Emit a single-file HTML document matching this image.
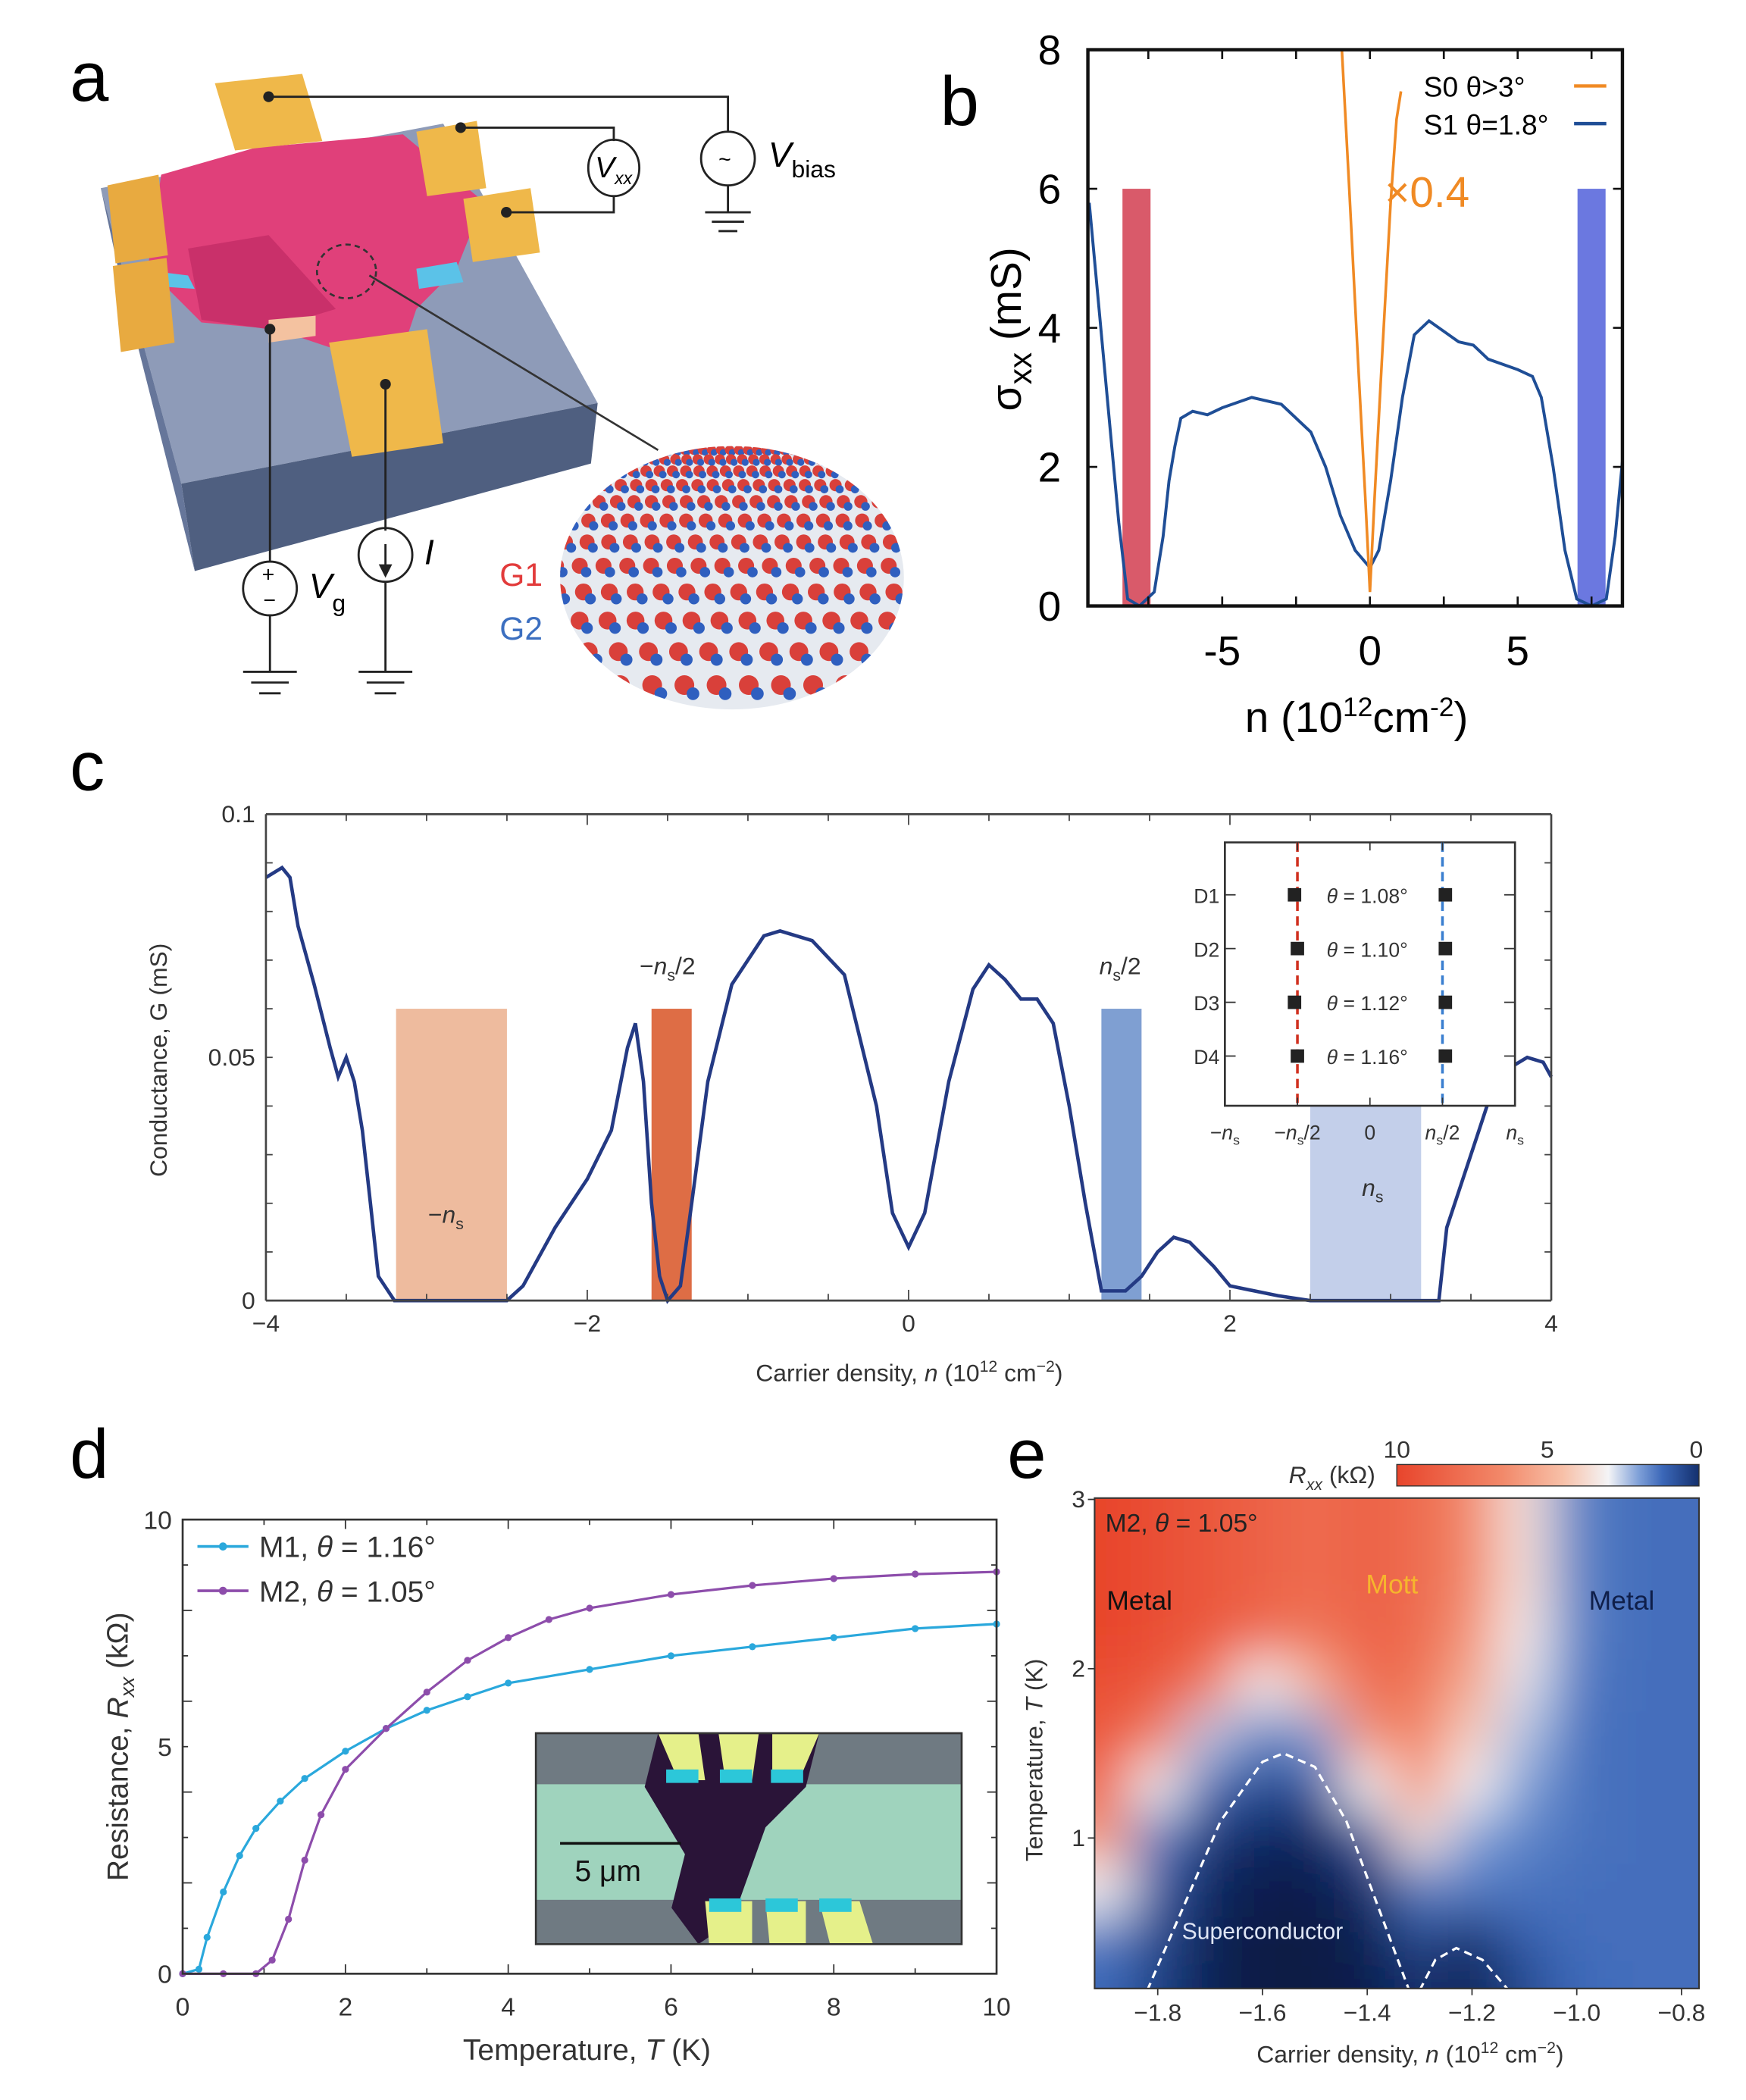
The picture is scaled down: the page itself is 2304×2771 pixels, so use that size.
<!DOCTYPE html>
<html><head><meta charset="utf-8"><style>
html,body{margin:0;padding:0;background:#fff;}
svg{display:block;font-family:"Liberation Sans",sans-serif;}
</style></head><body>
<svg id="fig" xmlns="http://www.w3.org/2000/svg" width="2304" height="2771" viewBox="0 0 1300 1563" preserveAspectRatio="none">
<defs>
<filter id="blur" x="-5%" y="-5%" width="110%" height="110%"><feGaussianBlur stdDeviation="20"/></filter>
<clipPath id="eclip"><rect x="815" y="1115" width="450" height="365"/></clipPath>
<clipPath id="latclip"><ellipse cx="545" cy="430" rx="128" ry="98"/></clipPath>
<linearGradient id="cbar" x1="0" x2="1" y1="0" y2="0">
<stop offset="0" stop-color="#e8452c"/><stop offset="0.35" stop-color="#f2896a"/><stop offset="0.55" stop-color="#f7c0a8"/><stop offset="0.7" stop-color="#f4f4f6"/><stop offset="0.8" stop-color="#7fa0d8"/><stop offset="0.88" stop-color="#3b67b8"/><stop offset="1" stop-color="#14306e"/></linearGradient>
</defs>

<text x="52" y="75" font-size="52">a</text>
<text x="700" y="93" font-size="52">b</text>
<text x="52" y="588" font-size="52">c</text>
<text x="52" y="1100" font-size="52">d</text>
<text x="750" y="1100" font-size="52">e</text>

<g>
<polygon points="75,140 330,92 445,300 135,360" fill="#8e9bb8"/>
<polygon points="135,360 445,300 440,345 145,425" fill="#4f5f80"/>
<polygon points="75,140 135,360 145,425 88,200" fill="#66769a"/>
<polygon points="120,130 190,110 300,100 360,150 340,200 310,230 300,260 250,260 205,245 150,240 110,200" fill="#e0407a"/>
<polygon points="140,185 200,175 250,230 200,245 150,238" fill="#c9306a"/>
<polygon points="100,200 140,205 145,215 102,212" fill="#5bc2e8"/>
<polygon points="310,200 340,195 345,210 312,215" fill="#5bc2e8"/>
<polygon points="200,238 235,235 235,250 200,255" fill="#f4c2a0"/>
<polygon points="160,62 225,55 240,105 175,112" fill="#efb84a"/>
<polygon points="310,98 355,90 362,140 318,146" fill="#efb84a"/>
<polygon points="345,148 395,140 402,188 352,195" fill="#efb84a"/>
<polygon points="80,138 118,130 125,190 86,196" fill="#e8aa40"/>
<polygon points="84,198 124,192 130,255 90,262" fill="#e8aa40"/>
<polygon points="245,255 318,245 330,330 262,340" fill="#efb84a"/>
<ellipse cx="258" cy="202" rx="22" ry="20" fill="none" stroke="#333" stroke-dasharray="4,3" stroke-width="1.5"/>
<line x1="275" y1="205" x2="490" y2="335" stroke="#333" stroke-width="1.5"/>
<g fill="none" stroke="#222" stroke-width="1.6">
<polyline points="200,72 542,72 542,98"/>
<circle cx="542" cy="118" r="20"/>
<polyline points="542,138 542,158"/>
<line x1="525" y1="158" x2="559" y2="158"/><line x1="530" y1="165" x2="554" y2="165"/><line x1="535" y1="172" x2="549" y2="172"/>
<polyline points="343,95 457,95 457,105"/>
<ellipse cx="457" cy="125" rx="19" ry="21"/>
<polyline points="457,146 457,158 377,158"/>
<polyline points="201,245 201,418"/>
<circle cx="201" cy="438" r="20"/>
<polyline points="201,458 201,500"/>
<line x1="181" y1="500" x2="221" y2="500"/><line x1="187" y1="508" x2="215" y2="508"/><line x1="193" y1="516" x2="209" y2="516"/>
<polyline points="287,286 287,395"/>
<circle cx="287" cy="413" r="20"/>
<polyline points="287,433 287,500"/>
<line x1="267" y1="500" x2="307" y2="500"/><line x1="273" y1="508" x2="301" y2="508"/><line x1="279" y1="516" x2="295" y2="516"/>
<line x1="287" y1="405" x2="287" y2="425"/>
</g>
<polygon points="282,420 292,420 287,430" fill="#222"/>
<g fill="#222"><circle cx="200" cy="72" r="4"/><circle cx="343" cy="95" r="4"/><circle cx="377" cy="158" r="4"/><circle cx="201" cy="245" r="4"/><circle cx="287" cy="286" r="4"/></g>
<text x="535" y="124" font-size="16">~</text>
<text x="443" y="132" font-size="22" font-style="italic">V<tspan font-size="13" dy="5">xx</tspan></text>
<text x="572" y="124" font-size="26" font-style="italic">V<tspan font-size="18" dy="8" font-style="normal">bias</tspan></text>
<text x="195" y="433" font-size="16">+</text><text x="196" y="452" font-size="16">−</text>
<text x="230" y="445" font-size="26" font-style="italic">V<tspan font-size="18" dy="10" font-style="normal">g</tspan></text>
<text x="316" y="420" font-size="26" font-style="italic">I</text>
<g clip-path="url(#latclip)" id="lattice">
<rect x="415" y="330" width="260" height="200" fill="#e6eaf0"/>
</g>
<text x="372" y="436" font-size="24" fill="#e23b3b">G1</text>
<text x="372" y="476" font-size="24" fill="#3c6fc0">G2</text>
</g>

<g id="pb"></g>
<g id="pc"></g>
<g id="pd"></g>
<g id="pe"></g>
</svg>
<script>
// Panel b
const bS1N=[-9.5,-9,-8.5,-8.2,-7.8,-7.3,-7,-6.8,-6.6,-6.4,-6,-5.5,-5,-4,-3,-2,-1.5,-1,-0.5,0,0.3,0.7,1.1,1.5,2,2.5,3,3.5,4,5,5.5,5.8,6.2,6.6,7,7.5,8,8.3,8.55];
const bS1Sigma=[5.8,3.5,1.2,0.1,0,0.2,1,1.8,2.3,2.7,2.8,2.75,2.85,3,2.9,2.5,2,1.3,0.8,0.55,0.8,1.8,3,3.9,4.1,3.95,3.8,3.75,3.55,3.4,3.3,3,2,0.8,0.1,0,0.1,1,2.1];
const bS0N=[-0.95,-0.7,-0.4,-0.15,0,0.15,0.4,0.7,0.9,1.05];
const bS0Sigma=[8,6,3.5,1.5,0.2,1.5,3.5,5.8,7,7.4];
const bBarN=[-7.9,7.5]; const bBarTop=[6,6]; const bBarW=[0.95,0.95];
const bBarColors=["#d95a6a","#6b78e0"];
const bYTicks=[0,2,4,6,8]; const bXTicks=[-5,0,5];
// Panel c
const cN=[-4,-3.9,-3.85,-3.8,-3.7,-3.6,-3.55,-3.5,-3.45,-3.4,-3.35,-3.3,-3.2,-2.5,-2.4,-2.2,-2,-1.85,-1.75,-1.7,-1.65,-1.6,-1.55,-1.5,-1.42,-1.35,-1.25,-1.1,-0.9,-0.8,-0.6,-0.4,-0.2,-0.1,0,0.1,0.25,0.4,0.5,0.6,0.7,0.8,0.9,1,1.1,1.2,1.35,1.45,1.55,1.65,1.75,1.9,2,2.3,2.5,3.3,3.35,3.45,3.55,3.65,3.75,3.85,3.95,4];
const cG=[0.087,0.089,0.087,0.077,0.065,0.052,0.046,0.05,0.045,0.035,0.02,0.005,0,0,0.003,0.015,0.025,0.035,0.052,0.057,0.045,0.02,0.005,0,0.003,0.02,0.045,0.065,0.075,0.076,0.074,0.067,0.04,0.018,0.011,0.018,0.045,0.064,0.069,0.066,0.062,0.062,0.057,0.04,0.02,0.002,0.002,0.005,0.01,0.013,0.012,0.007,0.003,0.001,0,0,0.015,0.025,0.035,0.045,0.048,0.05,0.049,0.046];
const cBarStart=[-3.19,-1.6,1.2,2.5]; const cBarEnd=[-2.5,-1.35,1.45,3.19]; const cBarTop=[0.06,0.06,0.06,0.06];
const cBarColors=["#eebb9e","#de6d45","#7f9fd2","#c3cfea"];
const cXTicks=[-4,-2,0,2,4]; const cYTicks=[0,0.05,0.1]; const cYTickLabels=["0","0.05","0.1"];
const insetDevices=["D1","D2","D3","D4"]; const insetAngles=["1.08","1.10","1.12","1.16"];
const insetLeft=[-0.52,-0.5,-0.52,-0.5]; const insetRight=[0.52,0.52,0.52,0.52];
const insetTickLabels=["−n","−n/2","0","n/2","n"]; const insetTickVals=[-1,-0.5,0,0.5,1];
// Panel d
const dM1T=[0,0.2,0.3,0.5,0.7,0.9,1.2,1.5,2,2.5,3,3.5,4,5,6,7,8,9,10];
const dM1R=[0,0.1,0.8,1.8,2.6,3.2,3.8,4.3,4.9,5.4,5.8,6.1,6.4,6.7,7,7.2,7.4,7.6,7.7];
const dM2T=[0,0.5,0.9,1.1,1.3,1.5,1.7,2,2.5,3,3.5,4,4.5,5,6,7,8,9,10];
const dM2R=[0,0,0,0.3,1.2,2.5,3.5,4.5,5.4,6.2,6.9,7.4,7.8,8.05,8.35,8.55,8.7,8.8,8.85];
const dXTicks=[0,2,4,6,8,10]; const dYTicks=[0,5,10];
// Panel e
const eN=[-1.9,-1.8,-1.7,-1.6,-1.5,-1.4,-1.3,-1.2,-1.1,-1.0,-0.9,-0.8];
const eT=[2.85,2.5,2.2,1.9,1.6,1.3,1.0,0.7,0.4,0.15];
const eR=[
[10,9.5,9,8.5,8,8.5,8,6.5,3.5,1.6,1.3,1.3],
[10,9.5,9,8.5,8,8.5,8,6.5,3.5,1.6,1.3,1.3],
[10,9.5,9,8,7.5,8.5,8,6,3.2,1.6,1.3,1.3],
[9.5,9,7,3,5,8,7.5,5.2,2.8,1.5,1.3,1.3],
[9,7,2.5,1.5,2,6,7,4,2.4,1.4,1.3,1.3],
[8,3,1.2,0.8,1,3,6,3,2,1.4,1.3,1.3],
[6,1.5,0.6,0.3,0.3,1,3.5,2,1.6,1.4,1.3,1.3],
[3,1,0.3,0.1,0.1,0.4,1.5,1.5,1.4,1.3,1.3,1.3],
[1.5,0.8,0.2,0,0,0.2,0.8,0.5,1.1,1.3,1.3,1.3],
[1.2,0.7,0.2,0,0,0.1,0.5,0.2,0.8,1.2,1.3,1.3]];
const eDomeN=[-1.82,-1.75,-1.68,-1.6,-1.56,-1.5,-1.44,-1.38,-1.32];
const eDomeT=[0.1,0.6,1.1,1.45,1.5,1.42,1.1,0.6,0.1];
const eDome2N=[-1.3,-1.27,-1.23,-1.18,-1.13];
const eDome2T=[0.1,0.28,0.35,0.28,0.1];
const eXTicks=[-1.8,-1.6,-1.4,-1.2,-1.0,-0.8]; const eXTickLabels=["−1.8","−1.6","−1.4","−1.2","−1.0","−0.8"];
const eYTicks=[1,2,3];

const NS="http://www.w3.org/2000/svg";
function mk(tag,attrs,parent){const e=document.createElementNS(NS,tag);for(const k in attrs)e.setAttribute(k,attrs[k]);parent.appendChild(e);return e;}
function txt(s,attrs,parent){const e=mk("text",attrs,parent);e.textContent=s;return e;}
function lin(d0,d1,r0,r1){return v=>r0+(v-d0)/(d1-d0)*(r1-r0);}
function pathOf(xs,ys,fx,fy){return xs.map((x,i)=>(i?"L":"M")+fx(x).toFixed(1)+","+fy(ys[i]).toFixed(1)).join("");}

(function(){const g=document.getElementById("lattice");
for(let r=0;r<14;r++){for(let c=0;c<20;c++){const y=335+r*r*0.9+r*6;const s=0.3+r*0.07;const x=420+c*14*s*1.6+(r%2)*7*s-((14*s*1.6*20)-260)/2;
const d=mk("circle",{cx:x,cy:y,r:2+s*5,fill:"#d9403a"},g);
const d2=mk("circle",{cx:x+6*s,cy:y+6*s,r:1.5+s*3,fill:"#2f5fbf"},g);}}})();

(function(){const g=document.getElementById("pb");
const X0=810,X1=1208,Y0=37,Y1=451;const fx=lin(0,5,1020,1130),fy=lin(0,8,451,37);
bBarN.forEach((n,i)=>{const r=mk("rect",{x:fx(n-bBarW[i]/2),y:fy(bBarTop[i]),width:fx(bBarW[i])-fx(0),height:fy(0)-fy(bBarTop[i]),fill:bBarColors[i]},g);
});
const cl=mk("clipPath",{id:"bclip"},g);mk("rect",{x:X0,y:Y0,width:X1-X0,height:Y1-Y0},cl);
const p1=mk("path",{d:pathOf(bS1N,bS1Sigma,fx,fy),fill:"none",stroke:"#1f4e96","stroke-width":2.2,"clip-path":"url(#bclip)"},g);

const p0=mk("path",{d:pathOf(bS0N,bS0Sigma,fx,fy),fill:"none",stroke:"#f08a24","stroke-width":2,"clip-path":"url(#bclip)"},g);

const fr=mk("rect",{x:X0,y:Y0,width:X1-X0,height:Y1-Y0,fill:"none",stroke:"#111","stroke-width":2.5},g);

bYTicks.forEach(v=>{mk("line",{x1:X0,x2:X0+7,y1:fy(v),y2:fy(v),stroke:"#111","stroke-width":1.5},g);mk("line",{x1:X1,x2:X1-7,y1:fy(v),y2:fy(v),stroke:"#111","stroke-width":1.5},g);
const t=txt(String(v),{x:790,y:fy(v)+11,"font-size":31,"text-anchor":"end"},g);});
[-7.5,-5,-2.5,0,2.5,5,7.5].forEach(v=>{mk("line",{x1:fx(v),x2:fx(v),y1:Y1,y2:Y1-7,stroke:"#111","stroke-width":1.5},g);mk("line",{x1:fx(v),x2:fx(v),y1:Y0,y2:Y0+7,stroke:"#111","stroke-width":1.5},g);});
bXTicks.forEach(v=>{const t=txt(v<0?"-"+Math.abs(v):String(v),{x:fx(v),y:495,"font-size":31,"text-anchor":"middle"},g);});
const yl=txt("",{transform:"translate(760,245) rotate(-90)","font-size":32,"text-anchor":"middle"},g);yl.innerHTML='σ<tspan font-size="24" dy="8">xx</tspan><tspan dy="-8"> (mS)</tspan>';

const xl=txt("",{x:1010,y:545,"font-size":32,"text-anchor":"middle"},g);xl.innerHTML='n (10<tspan font-size="20" dy="-12">12</tspan><tspan dy="12">cm</tspan><tspan font-size="20" dy="-12">-2</tspan><tspan dy="12">)</tspan>';

const l1=txt("S0 θ>3°",{x:1060,y:72,"font-size":21},g);
mk("line",{x1:1172,x2:1196,y1:64,y2:64,stroke:"#f08a24","stroke-width":2.5},g);
const l2=txt("S1 θ=1.8°",{x:1060,y:100,"font-size":21},g);
mk("line",{x1:1172,x2:1196,y1:92,y2:92,stroke:"#1f4e96","stroke-width":2.5},g);
const sc=txt("×0.4",{x:1031,y:154,"font-size":32,fill:"#f08a24"},g);
})();

(function(){const g=document.getElementById("pc");
const X0=198,X1=1155,Y0=606,Y1=968;const fx=lin(-4,4,198,1155),fy=lin(0,0.1,968,606);
cBarStart.forEach((s,i)=>{const r=mk("rect",{x:fx(s),y:fy(cBarTop[i]),width:fx(cBarEnd[i])-fx(s),height:fy(0)-fy(cBarTop[i]),fill:cBarColors[i]},g);
});
const p=mk("path",{d:pathOf(cN,cG,fx,fy),fill:"none",stroke:"#243a84","stroke-width":2.6},g);

mk("line",{x1:X0,x2:X1,y1:Y1,y2:Y1,stroke:"#444","stroke-width":1.5},g);
mk("line",{x1:X0,x2:X1,y1:Y0,y2:Y0,stroke:"#444","stroke-width":1.5},g);
mk("line",{x1:X0,x2:X0,y1:Y0,y2:Y1,stroke:"#444","stroke-width":1.5},g);
mk("line",{x1:X1,x2:X1,y1:Y0,y2:Y1,stroke:"#444","stroke-width":1.5},g);
for(let v=-4;v<=4;v+=0.5){const len=(v%2===0)?8:5;mk("line",{x1:fx(v),x2:fx(v),y1:Y1,y2:Y1-len,stroke:"#444"},g);mk("line",{x1:fx(v),x2:fx(v),y1:Y0,y2:Y0+len,stroke:"#444"},g);}
for(let v=0;v<=0.1001;v+=0.01){mk("line",{x1:X0,x2:X0+5,y1:fy(v),y2:fy(v),stroke:"#444"},g);mk("line",{x1:X1,x2:X1-5,y1:fy(v),y2:fy(v),stroke:"#444"},g);}
cXTicks.forEach(v=>{const t=txt(v<0?"−"+Math.abs(v):String(v),{x:fx(v),y:991,"font-size":18,"text-anchor":"middle",fill:"#333"},g);});
cYTicks.forEach((v,i)=>{const t=txt(cYTickLabels[i],{x:190,y:fy(v)+6,"font-size":18,"text-anchor":"end",fill:"#333"},g);});
const yl=txt("Conductance, G (mS)",{transform:"translate(124,789) rotate(-90)","font-size":18,"text-anchor":"middle",fill:"#333"},g);
const xl=txt("",{x:677,y:1028,"font-size":18,"text-anchor":"middle",fill:"#333"},g);xl.innerHTML='Carrier density, <tspan font-style="italic">n</tspan> (10<tspan font-size="12" dy="-7">12</tspan><tspan dy="7"> cm</tspan><tspan font-size="12" dy="-7">−2</tspan><tspan dy="7">)</tspan>';

function nsLabel(pre,suf,x,y,name){const t=txt("",{x:x,y:y,"font-size":18,"text-anchor":"middle",fill:"#333"},g);t.innerHTML=pre+'<tspan font-style="italic">n</tspan><tspan font-size="12" dy="5">s</tspan><tspan dy="-5">'+suf+'</tspan>';}
nsLabel("−","/2",497,725,"label-minus-half-ns");nsLabel("","/2",834,725,"label-half-ns");nsLabel("−","",332,910,"label-minus-ns");nsLabel("","",1022,890,"label-ns");
const IX0=912,IX1=1128,IY0=627,IY1=823;const ix=lin(-1,1,IX0,IX1);const rowY=[666,706,746,786];
const ib=mk("rect",{x:IX0,y:IY0,width:IX1-IX0,height:IY1-IY0,fill:"#fff",stroke:"#333","stroke-width":1.5},g);
const rd=mk("line",{x1:ix(-0.5),x2:ix(-0.5),y1:IY0,y2:IY1,stroke:"#d0301e","stroke-width":2,"stroke-dasharray":"7,4"},g);
const bd=mk("line",{x1:ix(0.5),x2:ix(0.5),y1:IY0,y2:IY1,stroke:"#3a7fd0","stroke-width":2,"stroke-dasharray":"7,4"},g);
insetTickVals.forEach((v,i)=>{mk("line",{x1:ix(v),x2:ix(v),y1:IY1,y2:IY1-6,stroke:"#333"},g);mk("line",{x1:ix(v),x2:ix(v),y1:IY0,y2:IY0+6,stroke:"#333"},g);
const t=txt("",{x:ix(v),y:848,"font-size":15,"text-anchor":"middle",fill:"#333"},g);const L=insetTickLabels[i];
if(L==="0")t.textContent="0";else{const pre=L[0]==="−"?"−":"";const suf=L.indexOf("/2")>=0?"/2":"";t.innerHTML=pre+'<tspan font-style="italic">n</tspan><tspan font-size="10" dy="4">s</tspan><tspan dy="-4">'+suf+'</tspan>';}
});
insetDevices.forEach((d,i)=>{const y=rowY[i];mk("line",{x1:IX0,x2:IX0+8,y1:y,y2:y,stroke:"#333"},g);mk("line",{x1:IX1,x2:IX1-8,y1:y,y2:y,stroke:"#333"},g);
const t=txt(d,{x:908,y:y+6,"font-size":15,"text-anchor":"end",fill:"#333"},g);
[insetLeft[i],insetRight[i]].forEach(v=>{const m=mk("rect",{x:ix(v)-5,y:y-5,width:10,height:10,fill:"#222"},g);});
const a=txt("",{x:1018,y:y+6,"font-size":15,"text-anchor":"middle",fill:"#333"},g);a.innerHTML='<tspan font-style="italic">θ</tspan> = '+insetAngles[i]+'°';});
})();

(function(){const g=document.getElementById("pd");
const X0=136,X1=742,Y0=1131,Y1=1469;const fx=lin(0,10,136,742),fy=lin(0,10,1469,1131);
const ig=mk("g",{},g);
mk("rect",{x:399,y:1290,width:317,height:157,fill:"#6f7a82"},ig);
mk("rect",{x:399,y:1328,width:317,height:86,fill:"#9fd3bd"},ig);
mk("polygon",{points:"490,1290 610,1290 600,1330 570,1360 545,1430 520,1447 500,1420 510,1380 480,1330",fill:"#2a1438"},ig);
mk("polygon",{points:"490,1290 520,1290 525,1325 505,1325",fill:"#e5f08a"},ig);
mk("polygon",{points:"535,1290 565,1290 560,1325 540,1325",fill:"#e5f08a"},ig);
mk("polygon",{points:"575,1290 610,1290 595,1325 575,1325",fill:"#e5f08a"},ig);
mk("polygon",{points:"525,1415 560,1415 560,1447 528,1447",fill:"#e5f08a"},ig);
mk("polygon",{points:"570,1415 600,1415 600,1447 573,1447",fill:"#e5f08a"},ig);
mk("polygon",{points:"610,1415 640,1415 650,1447 618,1447",fill:"#e5f08a"},ig);
[[508,1322],[548,1322],[586,1322],[540,1418],[582,1418],[622,1418]].forEach(p=>mk("rect",{x:p[0]-12,y:p[1]-5,width:24,height:10,fill:"#2cc7d9"},ig));
mk("rect",{x:399,y:1290,width:317,height:157,fill:"none",stroke:"#333","stroke-width":1.5},ig);
mk("line",{x1:417,x2:507,y1:1372,y2:1372,stroke:"#111","stroke-width":2},ig);
const sb=txt("5 μm",{x:428,y:1400,"font-size":22,fill:"#111"},ig);
function series(xs,ys,col,name){const p=mk("path",{d:pathOf(xs,ys,fx,fy),fill:"none",stroke:col,"stroke-width":1.8},g);
xs.forEach((x,i)=>{const c=mk("circle",{cx:fx(x),cy:fy(ys[i]),r:2.6,fill:col},g);});}
series(dM1T,dM1R,"#2aa8dc","m1");series(dM2T,dM2R,"#8d4dab","m2");
mk("rect",{x:X0,y:Y0,width:X1-X0,height:Y1-Y0,fill:"none",stroke:"#333","stroke-width":1.5},g);
for(let v=0;v<=10;v+=1){const len=(v%2===0)?7:4;mk("line",{x1:fx(v),x2:fx(v),y1:Y1,y2:Y1-len,stroke:"#333"},g);mk("line",{x1:fx(v),x2:fx(v),y1:Y0,y2:Y0+len,stroke:"#333"},g);
mk("line",{x1:X0,x2:X0+len,y1:fy(v),y2:fy(v),stroke:"#333"},g);mk("line",{x1:X1,x2:X1-len,y1:fy(v),y2:fy(v),stroke:"#333"},g);}
dXTicks.forEach(v=>{const t=txt(String(v),{x:fx(v),y:1500,"font-size":19,"text-anchor":"middle",fill:"#333"},g);});
dYTicks.forEach(v=>{const t=txt(String(v),{x:128,y:fy(v)+7,"font-size":19,"text-anchor":"end",fill:"#333"},g);});
const yl=txt("",{transform:"translate(95,1300) rotate(-90)","font-size":22,"text-anchor":"middle",fill:"#333"},g);yl.innerHTML='Resistance, <tspan font-style="italic">R</tspan><tspan font-size="15" dy="5" font-style="italic">xx</tspan><tspan dy="-5"> (kΩ)</tspan>';

const xl=txt("",{x:437,y:1533,"font-size":22,"text-anchor":"middle",fill:"#333"},g);xl.innerHTML='Temperature, <tspan font-style="italic">T</tspan> (K)';

[["M1","1.16","#2aa8dc",1151],["M2","1.05","#8d4dab",1184]].forEach(L=>{mk("line",{x1:147,x2:185,y1:L[3],y2:L[3],stroke:L[2],"stroke-width":2},g);mk("circle",{cx:166,cy:L[3],r:3,fill:L[2]},g);
const t=txt("",{x:193,y:L[3]+8,"font-size":22,fill:"#333"},g);t.innerHTML=L[0]+', <tspan font-style="italic">θ</tspan> = '+L[1]+'°';});
})();

(function(){const g=document.getElementById("pe");
const X0=815,X1=1265,Y0=1115,Y1=1480;const fx=lin(-1.8,-0.8,862,1252),fy=lin(1,2,1368,1242);
const stops=[[0,[11,26,69]],[0.5,[20,48,110]],[1.2,[59,103,184]],[2,[127,160,216]],[3,[244,244,246]],[4.5,[247,192,168]],[6.5,[242,137,106]],[10,[232,69,44]]];
function col(v){v=Math.max(0,Math.min(10,v));for(let i=1;i<stops.length;i++){if(v<=stops[i][0]){const a=stops[i-1],b=stops[i];const t=(v-a[0])/(b[0]-a[0]);const c=a[1].map((x,k)=>Math.round(x+(b[1][k]-x)*t));return "rgb("+c.join(",")+")";}}return "rgb(232,69,44)";}
const hg=mk("g",{"clip-path":"url(#eclip)"},g);mk("rect",{x:X0,y:Y0,width:X1-X0,height:Y1-Y0,fill:col(1.3)},hg);
const bg=mk("g",{filter:"url(#blur)"},hg);
const dn=0.1;const tEdges=eT.map((t,i)=>{const up=i===0?3.4:(t+eT[i-1])/2;const lo=i===eT.length-1?-0.4:(t+eT[i+1])/2;return [up,lo];});
eR.forEach((row,i)=>row.forEach((v,j)=>{const x0=fx(eN[j]-dn/2-(j===0?0.3:0)),x1=fx(eN[j]+dn/2+(j===eN.length-1?0.3:0));
const c=mk("rect",{x:x0,y:fy(tEdges[i][0]),width:x1-x0+0.5,height:fy(tEdges[i][1])-fy(tEdges[i][0])+0.5,fill:col(v)},bg);
}));
const d1=mk("path",{d:pathOf(eDomeN,eDomeT,fx,fy),fill:"none",stroke:"#fff","stroke-width":1.8,"stroke-dasharray":"6,4"},hg);
const d2=mk("path",{d:pathOf(eDome2N,eDome2T,fx,fy),fill:"none",stroke:"#fff","stroke-width":1.8,"stroke-dasharray":"6,4"},hg);
mk("rect",{x:X0,y:Y0,width:X1-X0,height:Y1-Y0,fill:"none",stroke:"#333","stroke-width":1.2},g);
eXTicks.forEach((v,i)=>{mk("line",{x1:fx(v),x2:fx(v),y1:Y1,y2:Y1+5,stroke:"#333"},g);const t=txt(eXTickLabels[i],{x:fx(v),y:1504,"font-size":18,"text-anchor":"middle",fill:"#333"},g);});
eYTicks.forEach(v=>{mk("line",{x1:X0,x2:X0-5,y1:fy(v),y2:fy(v),stroke:"#333"},g);const t=txt(String(v),{x:808,y:fy(v)+6,"font-size":18,"text-anchor":"end",fill:"#333"},g);});
const yl=txt("",{transform:"translate(776,1310) rotate(-90)","font-size":18,"text-anchor":"middle",fill:"#333"},g);yl.innerHTML='Temperature, <tspan font-style="italic">T</tspan> (K)';
const xl=txt("",{x:1050,y:1535,"font-size":18,"text-anchor":"middle",fill:"#333"},g);xl.innerHTML='Carrier density, <tspan font-style="italic">n</tspan> (10<tspan font-size="12" dy="-7">12</tspan><tspan dy="7"> cm</tspan><tspan font-size="12" dy="-7">−2</tspan><tspan dy="7">)</tspan>';
const cb=mk("rect",{x:1040,y:1090,width:225,height:16,fill:"url(#cbar)",stroke:"#333","stroke-width":0.8},g);
[["10",1040],["5",1152],["0",1263]].forEach(L=>{const t=txt(L[0],{x:L[1],y:1085,"font-size":18,"text-anchor":"middle",fill:"#333"},g);});
const cl=txt("",{x:1024,y:1104,"font-size":18,"text-anchor":"end",fill:"#333"},g);cl.innerHTML='<tspan font-style="italic">R</tspan><tspan font-size="12" dy="5" font-style="italic">xx</tspan><tspan dy="-5"> (kΩ)</tspan>';
const a1=txt("",{x:823,y:1140,"font-size":19,fill:"#222"},g);a1.innerHTML='M2, <tspan font-style="italic">θ</tspan> = 1.05°';
const a2=txt("Metal",{x:824,y:1198,"font-size":20,fill:"#111"},g);
const a3=txt("Mott",{x:1017,y:1186,"font-size":20,fill:"#f6b52d"},g);
const a4=txt("Metal",{x:1183,y:1198,"font-size":20,fill:"#0f1f4a"},g);
const a5=txt("Superconductor",{x:880,y:1443,"font-size":17,fill:"#dfe6f5"},g);
})();
</script>
</body></html>
